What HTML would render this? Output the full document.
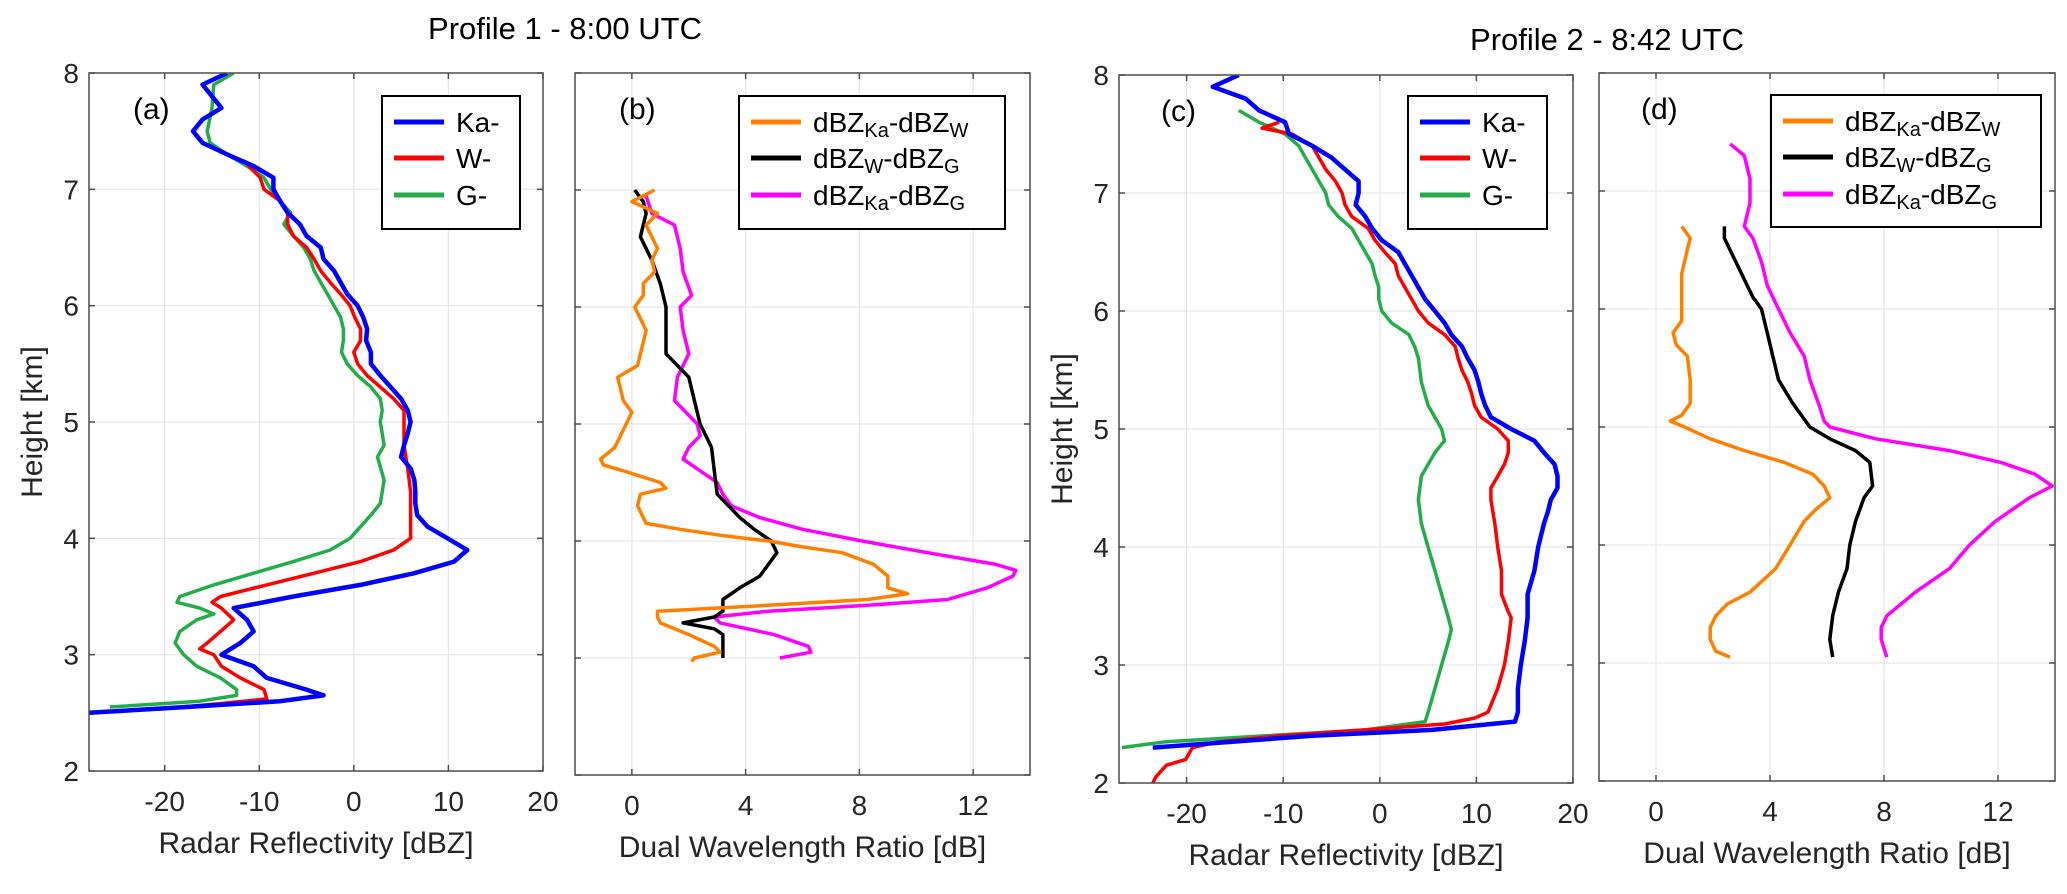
<!DOCTYPE html>
<html><head><meta charset="utf-8"><style>
html,body{margin:0;padding:0;background:#fff;}
svg{display:block;font-family:"Liberation Sans",Arial,sans-serif;}
</style></head><body>
<svg id="fig" width="2067" height="894" viewBox="0 0 2067 894" xmlns="http://www.w3.org/2000/svg">
<text x="565" y="39" font-size="31" text-anchor="middle">Profile 1 - 8:00 UTC</text>
<text x="1607" y="50" font-size="31" text-anchor="middle">Profile 2 - 8:42 UTC</text>
</svg>
<script>
// ---------- data: [height km, value] ----------
const aKa = [[8,-13.4],[7.9,-16],[7.8,-15],[7.7,-14],[7.6,-16],[7.5,-17],[7.4,-16],[7.3,-13.4],[7.2,-10.6],[7.1,-8.5],[7.0,-8.5],[6.9,-7.8],[6.8,-7],[6.7,-5.7],[6.6,-5],[6.5,-3.5],[6.4,-3.2],[6.3,-2.1],[6.2,-1.4],[6.1,-0.7],[6.0,0.4],[5.9,1],[5.8,1.4],[5.7,1.3],[5.6,1.8],[5.5,1.8],[5.4,2.8],[5.3,3.9],[5.2,5],[5.1,5.7],[5.0,6],[4.9,5.7],[4.8,5.3],[4.7,5],[4.6,6],[4.5,6.4],[4.4,6.5],[4.3,6.5],[4.2,6.7],[4.1,7.8],[4.0,9.9],[3.9,12],[3.8,10.6],[3.7,6.4],[3.6,0.7],[3.5,-6.4],[3.4,-12.7],[3.3,-11.3],[3.2,-10.6],[3.1,-12],[3.0,-14],[2.9,-10.6],[2.8,-9.2],[2.7,-5],[2.65,-3.2],[2.6,-7.8],[2.55,-17.7],[2.5,-28]];
const aW = [[7.25,-11.7],[7.1,-9.9],[7.0,-9.5],[6.9,-7.8],[6.8,-7],[6.7,-7],[6.6,-6.4],[6.5,-5],[6.4,-4.2],[6.3,-3.5],[6.2,-2.5],[6.1,-1.4],[6.0,-0.4],[5.9,0.1],[5.8,0.7],[5.7,0.7],[5.6,0],[5.5,0.4],[5.4,1.4],[5.3,2.8],[5.2,4.2],[5.1,5.3],[5.0,5.3],[4.8,5.3],[4.6,5.7],[4.4,6],[4.2,6],[4.0,6],[3.9,4.2],[3.8,0.7],[3.7,-4.2],[3.6,-9.2],[3.5,-14.1],[3.45,-15],[3.4,-14],[3.3,-12.7],[3.2,-14.1],[3.1,-15.5],[3.05,-16.3],[3.0,-14.8],[2.9,-14],[2.8,-12],[2.7,-9.5],[2.62,-9.2],[2.58,-14],[2.53,-20.8]];
const aG = [[8,-12.7],[7.9,-14.8],[7.7,-15],[7.5,-15.5],[7.4,-15.2],[7.3,-13.4],[7.2,-11.3],[7.1,-9.5],[7.0,-8.8],[6.9,-7.8],[6.8,-6.7],[6.7,-7.4],[6.6,-6.4],[6.5,-5.3],[6.4,-4.6],[6.3,-4.2],[6.2,-3.5],[6.1,-2.8],[6.0,-2.1],[5.9,-1.4],[5.8,-1.1],[5.7,-1.1],[5.6,-1.3],[5.5,-0.7],[5.4,0.4],[5.3,1.8],[5.2,2.8],[5.1,3],[5.0,2.8],[4.8,3.2],[4.7,2.5],[4.5,3.2],[4.3,2.8],[4.2,1.8],[4.1,0.7],[4.0,-0.4],[3.9,-2.5],[3.8,-6.4],[3.7,-10.6],[3.6,-14.8],[3.5,-18.4],[3.45,-18.7],[3.4,-16.3],[3.35,-14.8],[3.3,-16.6],[3.2,-18.4],[3.1,-18.9],[3.0,-18],[2.9,-16.6],[2.8,-14.1],[2.7,-12.4],[2.65,-12.4],[2.6,-16.3],[2.55,-25.8]];
const bKaW = [[7.0,0.8],[6.9,0],[6.8,0.9],[6.7,0.5],[6.6,0.7],[6.5,0.9],[6.4,0.7],[6.3,0.8],[6.2,0.4],[6.1,0.4],[6.0,0.1],[5.9,0.3],[5.8,0.5],[5.7,0.4],[5.6,0.3],[5.5,0.2],[5.4,-0.5],[5.3,-0.4],[5.2,-0.3],[5.1,0],[5.0,-0.2],[4.9,-0.4],[4.8,-0.6],[4.7,-1.1],[4.65,-1],[4.6,-0.3],[4.5,1],[4.45,1.2],[4.4,0.3],[4.3,0.2],[4.2,0.4],[4.15,0.5],[4.1,1.7],[4.05,3.1],[4.0,4.8],[3.95,6],[3.9,7.4],[3.8,8.5],[3.7,9],[3.6,9],[3.55,9.7],[3.5,8.3],[3.45,4.8],[3.4,0.9],[3.35,0.9],[3.3,1],[3.2,2],[3.1,2.9],[3.05,3.1],[3.0,2.2],[2.97,2.1]];
const bWG = [[7.0,0.1],[6.9,0.4],[6.8,0.5],[6.6,0.3],[6.4,0.7],[6.2,1],[6.0,1.2],[5.8,1.2],[5.6,1.2],[5.5,1.6],[5.4,2],[5.2,2.2],[5.0,2.4],[4.8,2.8],[4.6,2.9],[4.4,3],[4.3,3.4],[4.2,3.8],[4.1,4.3],[4.0,4.9],[3.9,5.1],[3.8,4.8],[3.7,4.5],[3.6,3.8],[3.5,3.2],[3.4,3.2],[3.35,2.9],[3.3,1.8],[3.25,2.9],[3.2,3.2],[3.1,3.2],[3.0,3.2]];
const bKaG = [[6.95,0.5],[6.8,0.7],[6.7,1.5],[6.5,1.7],[6.3,1.8],[6.1,2.1],[6.0,1.7],[5.8,1.8],[5.6,2],[5.4,1.6],[5.2,1.5],[5.0,2.3],[4.9,2.4],[4.8,2],[4.7,1.8],[4.6,2.4],[4.5,3],[4.4,3.2],[4.3,3.5],[4.2,4.5],[4.1,6],[4.0,8.1],[3.9,10.4],[3.8,12.8],[3.75,13.5],[3.7,13.4],[3.6,12.5],[3.5,11.1],[3.45,8.3],[3.4,4.8],[3.35,2.9],[3.3,3.1],[3.2,5],[3.1,6.2],[3.05,6.3],[3.0,5.2]];
const cKa = [[8,-14.6],[7.9,-17.3],[7.8,-13.9],[7.7,-12.5],[7.6,-9.8],[7.5,-9.4],[7.4,-7],[7.3,-5],[7.2,-3.6],[7.1,-2.2],[7.0,-2.2],[6.9,-2.5],[6.8,-1.5],[6.7,-0.8],[6.6,0.2],[6.5,1.9],[6.4,2.6],[6.3,3.3],[6.2,4],[6.1,4.7],[6.0,5.7],[5.9,6.7],[5.8,7.4],[5.7,8.5],[5.6,9.1],[5.5,9.8],[5.4,10.2],[5.3,10.5],[5.2,10.9],[5.1,11.5],[5.0,13.6],[4.9,16],[4.8,17],[4.7,18.1],[4.6,18.4],[4.5,18.4],[4.4,17.7],[4.3,17.4],[4.2,17],[4.0,16.4],[3.8,16],[3.6,15.3],[3.4,15.3],[3.2,15],[3.0,14.6],[2.8,14.3],[2.6,14.3],[2.52,14],[2.45,5.4],[2.4,-7],[2.35,-15.3],[2.3,-23.5]];
const cW = [[7.6,-10.4],[7.55,-12.2],[7.5,-9.1],[7.4,-7],[7.3,-6.3],[7.2,-5.6],[7.1,-4.6],[7.0,-3.9],[6.9,-3.6],[6.8,-2.9],[6.7,-1.2],[6.6,-0.5],[6.5,0.5],[6.4,1.6],[6.3,1.9],[6.2,2.6],[6.1,3.3],[6.0,4],[5.9,5],[5.8,6.7],[5.7,7.8],[5.6,8.1],[5.5,8.5],[5.4,9.1],[5.3,9.5],[5.2,9.8],[5.1,10.5],[5.0,12.2],[4.9,13.3],[4.8,13.3],[4.7,12.9],[4.6,12.2],[4.5,11.5],[4.4,11.5],[4.2,11.9],[4.0,12.2],[3.8,12.6],[3.6,12.6],[3.45,13.3],[3.4,13.6],[3.2,13.3],[3.0,12.9],[2.8,12.2],[2.6,11.2],[2.55,9.8],[2.5,6.7],[2.45,-1.5],[2.4,-10.4],[2.35,-16.6],[2.3,-19.4],[2.2,-20.1],[2.15,-22.1],[2.05,-23.2],[2.0,-23.5]];
const cG = [[7.7,-14.6],[7.6,-12.5],[7.5,-9.8],[7.4,-8.4],[7.3,-7.7],[7.2,-7],[7.1,-6.3],[7.0,-5.6],[6.9,-5.3],[6.8,-4.3],[6.7,-2.9],[6.6,-2.2],[6.5,-1.5],[6.4,-0.8],[6.3,-0.5],[6.2,-0.1],[6.1,-0.1],[6.0,0.2],[5.9,1.2],[5.8,3],[5.7,3.6],[5.6,4],[5.4,4.3],[5.2,5],[5.1,5.7],[5.0,6.4],[4.9,6.7],[4.8,5.7],[4.7,5],[4.6,4.3],[4.4,4],[4.2,4.3],[4.0,5],[3.8,5.7],[3.6,6.4],[3.4,7.1],[3.3,7.4],[3.2,7.1],[3.0,6.4],[2.8,5.7],[2.6,5],[2.52,4.7],[2.45,-1.5],[2.4,-11.8],[2.35,-22.1],[2.3,-26.7]];
const dKaW = [[6.7,0.9],[6.6,1.2],[6.5,1.1],[6.3,0.9],[6.1,0.9],[5.9,0.9],[5.8,0.6],[5.7,0.7],[5.6,1.1],[5.4,1.2],[5.2,1.2],[5.1,0.9],[5.05,0.5],[5.0,1],[4.9,1.9],[4.8,3.1],[4.7,4.5],[4.6,5.5],[4.5,5.9],[4.4,6.1],[4.3,5.6],[4.2,5.2],[4.0,4.7],[3.8,4.2],[3.6,3.3],[3.5,2.5],[3.4,2.1],[3.3,1.9],[3.2,1.9],[3.1,2.1],[3.05,2.6]];
const dWG = [[6.7,2.4],[6.6,2.4],[6.5,2.6],[6.3,3],[6.1,3.4],[6.0,3.7],[5.8,3.9],[5.6,4.1],[5.4,4.3],[5.2,4.8],[5.0,5.4],[4.9,6.1],[4.8,7],[4.7,7.5],[4.5,7.6],[4.4,7.3],[4.2,7],[4.0,6.8],[3.8,6.7],[3.6,6.4],[3.4,6.2],[3.2,6.1],[3.05,6.2]];
const dKaG = [[7.4,2.6],[7.3,3.1],[7.1,3.3],[6.9,3.3],[6.7,3.1],[6.6,3.4],[6.4,3.7],[6.2,3.9],[6.0,4.3],[5.8,4.7],[5.6,5.2],[5.4,5.4],[5.2,5.7],[5.05,5.9],[5.0,6.1],[4.9,7.7],[4.8,10.3],[4.7,12.1],[4.6,13.3],[4.5,13.9],[4.4,13.1],[4.2,11.9],[4.0,11],[3.8,10.3],[3.6,9.1],[3.4,8.1],[3.3,7.9],[3.2,7.9],[3.05,8.1]];
const reflTicks = [-20,-10,0,10,20];
const dwrTicks = [0,4,8,12];
const heightTicks = [2,3,4,5,6,7,8];

const NS = "http://www.w3.org/2000/svg";
const svg = document.getElementById('fig');
function mk(tag, attrs, parent){ const e=document.createElementNS(NS,tag); for(const k in attrs) e.setAttribute(k,attrs[k]); (parent||svg).appendChild(e); return e; }

const panels = [
 {id:'a', x0:89, x1:543, y0:73, y1:771, xmin:-28, xmax:20, ticks:reflTicks, yl:true, xlabel:'Radar Reflectivity [dBZ]',
  series:[[aG,'#22ad48',3.5,'series-g-band'],[aW,'#ff0000',3.5,'series-w-band'],[aKa,'#0000ff',4.5,'series-ka-band']], legend:'refl', lg:[382,96,520,229]},
 {id:'b', x0:575, x1:1030, y0:73, y1:775, xmin:-2, xmax:14, ticks:dwrTicks, yl:false, xlabel:'Dual Wavelength Ratio [dB]',
  series:[[bKaG,'#ff00ff',3.5,'series-dwr-ka-g'],[bWG,'#000000',3.5,'series-dwr-w-g'],[bKaW,'#ff8000',3.5,'series-dwr-ka-w']], legend:'dwr', lg:[739,96,1005,229]},
 {id:'c', x0:1119, x1:1573, y0:75, y1:783, xmin:-27, xmax:20, ticks:reflTicks, yl:true, xlabel:'Radar Reflectivity [dBZ]',
  series:[[cG,'#22ad48',3.5,'series-g-band'],[cW,'#ff0000',3.5,'series-w-band'],[cKa,'#0000ff',4.5,'series-ka-band']], legend:'refl', lg:[1408,96,1547,229]},
 {id:'d', x0:1599, x1:2055, y0:73, y1:781, xmin:-2, xmax:14, ticks:dwrTicks, yl:false, xlabel:'Dual Wavelength Ratio [dB]',
  series:[[dKaG,'#ff00ff',3.5,'series-dwr-ka-g'],[dWG,'#000000',3.5,'series-dwr-w-g'],[dKaW,'#ff8000',3.5,'series-dwr-ka-w']], legend:'dwr', lg:[1771,95,2041,227]}
];

panels.forEach(p=>{
  const g = mk('g',{});
  
  
  const sx = v => p.x0 + (v-p.xmin)/(p.xmax-p.xmin)*(p.x1-p.x0);
  const sy = h => p.y1 - (h-2)/6*(p.y1-p.y0);
  p.ticks.forEach(t=>{ const X=sx(t); if(X>p.x0+1&&X<p.x1-1){ const l=mk('line',{x1:X,x2:X,y1:p.y0,y2:p.y1,stroke:'#e6e6e6','stroke-width':1.2},g);  }});
  heightTicks.forEach(t=>{ const Y=sy(t); if(Y>p.y0+1&&Y<p.y1-1){ const l=mk('line',{x1:p.x0,x2:p.x1,y1:Y,y2:Y,stroke:'#e6e6e6','stroke-width':1.2},g);  }});
  const cp = mk('clipPath',{id:'clip'+p.id},g); mk('rect',{x:p.x0,y:p.y0,width:p.x1-p.x0,height:p.y1-p.y0},cp);
  p.series.forEach(s=>{
    const d = s[0].map((pt,i)=>(i?'L':'M')+sx(pt[1]).toFixed(1)+','+sy(pt[0]).toFixed(1)).join(' ');
    const path = mk('path',{d:d,fill:'none',stroke:s[1],'stroke-width':s[2],'stroke-linejoin':'round','clip-path':'url(#clip'+p.id+')'},g);
    
    
  });
  const box = mk('rect',{x:p.x0,y:p.y0,width:p.x1-p.x0,height:p.y1-p.y0,fill:'none',stroke:'#4d4d4d','stroke-width':1.5},g);
  
  
  p.ticks.forEach(t=>{ const X=sx(t);
    mk('line',{x1:X,x2:X,y1:p.y1,y2:p.y1-6,stroke:'#4d4d4d','stroke-width':1.5},g);
    mk('line',{x1:X,x2:X,y1:p.y0,y2:p.y0+6,stroke:'#4d4d4d','stroke-width':1.5},g);
    const tl=mk('text',{x:X,y:p.y1+40,'font-size':28,'text-anchor':'middle',fill:'#262626'},g); tl.textContent=t;
    
    
  });
  heightTicks.forEach(t=>{ const Y=sy(t);
    mk('line',{x1:p.x0,x2:p.x0+6,y1:Y,y2:Y,stroke:'#4d4d4d','stroke-width':1.5},g);
    mk('line',{x1:p.x1,x2:p.x1-6,y1:Y,y2:Y,stroke:'#4d4d4d','stroke-width':1.5},g);
    if(p.yl){ const tl=mk('text',{x:p.x0-10,y:Y+10,'font-size':28,'text-anchor':'end',fill:'#262626'},g); tl.textContent=t;
      
       }
  });
  const xl=mk('text',{x:(p.x0+p.x1)/2,y:p.y1+82,'font-size':30,'text-anchor':'middle',fill:'#262626'},g); xl.textContent=p.xlabel;
  
  
  if(p.yl){ const yl=mk('text',{x:0,y:0,'font-size':30,'text-anchor':'middle',fill:'#262626',transform:'translate('+(p.x0-47)+','+((p.y0+p.y1)/2)+') rotate(-90)'},g); yl.textContent='Height [km]';
    
     }
  const pl=mk('text',{x:p.x0+(p.id=='a'||p.id=='b'?44:42),y:p.y0+46,'font-size':30,fill:'#000'},g); pl.textContent='('+p.id+')';
  
  
  const L=p.lg; const lg=mk('g',{},g);
  
  
  mk('rect',{x:L[0],y:L[1],width:L[2]-L[0],height:L[3]-L[1],fill:'#fff',stroke:'#000','stroke-width':2},lg);
  const rows = [L[1]+26,L[1]+62,L[1]+99];
  let entries;
  if(p.legend=='refl') entries=[['#0000ff',[['Ka-',0]]],['#ff0000',[['W-',0]]],['#22ad48',[['G-',0]]]];
  else entries=[['#ff8000',[['dBZ',0],['Ka',1],['-dBZ',0],['W',1]]],['#000000',[['dBZ',0],['W',1],['-dBZ',0],['G',1]]],['#ff00ff',[['dBZ',0],['Ka',1],['-dBZ',0],['G',1]]]];
  entries.forEach((e,i)=>{
    const eg=mk('g',{},lg);
    
    
    mk('line',{x1:L[0]+12,x2:L[0]+62,y1:rows[i],y2:rows[i],stroke:e[0],'stroke-width':5},eg);
    const t=mk('text',{x:L[0]+74,y:rows[i]+10,'font-size':28,fill:'#000'},eg);
    e[1].forEach(part=>{ const ts=mk('tspan',{},t); ts.textContent=part[0]; if(part[1]){ts.setAttribute('font-size','20'); ts.setAttribute('dy','5');} else if(t.childNodes.length>1){ts.setAttribute('dy','-5');} });
  });
});
</script>
</body></html>
